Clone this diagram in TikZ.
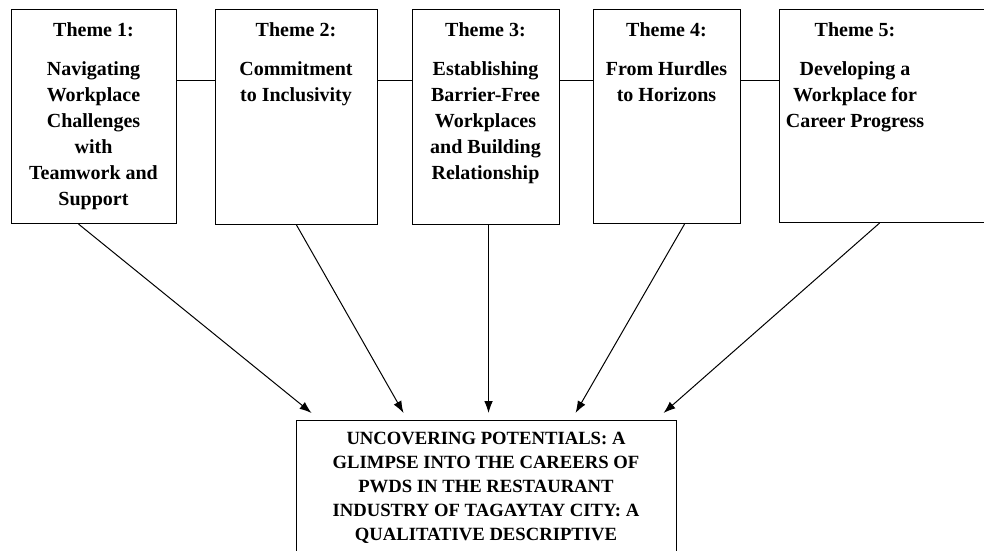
\documentclass[tikz,border=0pt]{standalone}
\usepackage{fontspec}
\setmainfont{Liberation Serif}[BoldFont={Liberation Serif Bold}]
\newfontfamily\tnrb{Liberation Serif Bold}
\usetikzlibrary{calc,arrows.meta}
\begin{document}
\begin{tikzpicture}[x=0.75pt,y=-0.75pt,
  box/.style={draw, line width=0.8pt, rectangle, inner sep=0pt, anchor=north west},
  ttl/.style={font=\tnrb\fontsize{15}{19.5}\selectfont, align=center, anchor=north, inner sep=0pt},
  bdy/.style={font=\tnrb\fontsize{15}{19.5}\selectfont, align=center, anchor=north, inner sep=0pt},
  main/.style={font=\tnrb\fontsize{14}{18}\selectfont, align=center, anchor=north, inner sep=0pt},
  link/.style={line width=0.75pt},
  arr/.style={line width=0.75pt, -{Latex[length=9pt,width=6.5pt]}}]
\useasboundingbox (0,0) rectangle (984,550);
\clip (0,0) rectangle (984,550);
\fill[white] (0,0) rectangle (984,550);
% theme boxes
\node[box, minimum width=123.75pt, minimum height=160.5pt] (t1) at (11,9) {};
\node[box, minimum width=121.5pt, minimum height=161.25pt] (t2) at (215,9) {};
\node[box, minimum width=110.25pt, minimum height=161.25pt] (t3) at (412,9) {};
\node[box, minimum width=110.25pt, minimum height=160.5pt] (t4) at (593,9) {};
\node[box, minimum width=165.75pt, minimum height=159.75pt] (t5) at (779,9) {};
% main box
\node[box, minimum width=285pt, minimum height=120pt] (b) at (296,420) {};
% titles
\node[ttl] (h1) at (93.5,22.5) {Theme 1:};
\node[ttl] (h2) at (296,22.5) {Theme 2:};
\node[ttl] (h3) at (485.5,22.5) {Theme 3:};
\node[ttl] (h4) at (666.5,22.5) {Theme 4:};
\node[ttl] (h5) at (855,22.5) {Theme 5:};
% bodies
\node[bdy] (c1) at (93.5,61.5) {Navigating\\Workplace\\Challenges\\with\\Teamwork and\\Support};
\node[bdy] (c2) at (296,61.5) {Commitment\\to Inclusivity};
\node[bdy] (c3) at (485.5,61.5) {Establishing\\Barrier-Free\\Workplaces\\and Building\\Relationship};
\node[bdy] (c4) at (666.5,61.5) {From Hurdles\\to Horizons};
\node[bdy] (c5) at (855,61.5) {Developing a\\Workplace for\\Career Progress};
\node[main] (m) at (486,432) {UNCOVERING POTENTIALS: A\\GLIMPSE INTO THE CAREERS OF\\PWDS IN THE RESTAURANT\\INDUSTRY OF TAGAYTAY CITY: A\\QUALITATIVE DESCRIPTIVE};
% horizontal links
\coordinate (lvl) at (0,80);
\draw[link] (t1.east |- lvl) -- (t2.west |- lvl);
\draw[link] (t2.east |- lvl) -- (t3.west |- lvl);
\draw[link] (t3.east |- lvl) -- (t4.west |- lvl);
\draw[link] (t4.east |- lvl) -- (t5.west |- lvl);
% arrows
\draw[arr] ($(t1.south)+(-15.5,0)$) -- ($(b.north)+(-175,-7)$);
\draw[arr] ($(t2.south)+(0,0)$) -- ($(b.north)+(-83,-7)$);
\draw[arr] ($(t3.south)+(2.5,0)$) -- ($(b.north)+(2,-7)$);
\draw[arr] ($(t4.south)+(17.5,0)$) -- ($(b.north)+(89,-7)$);
\draw[arr] ($(t5.south)+(-10.5,0)$) -- ($(b.north)+(177,-7)$);
\end{tikzpicture}
\end{document}
